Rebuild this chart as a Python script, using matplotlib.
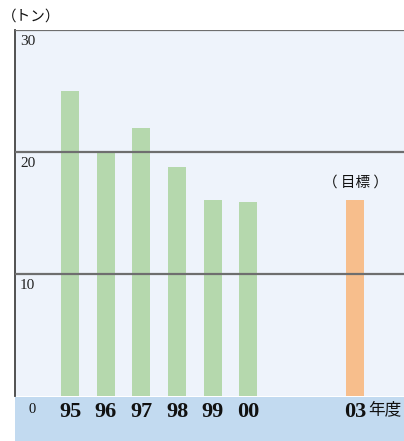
import matplotlib
matplotlib.use("Agg")
import matplotlib.pyplot as plt
from matplotlib.patches import Rectangle

# data
years = ["95", "96", "97", "98", "99", "00", "03"]
positions = [0, 1, 2, 3, 4, 5, 8]
amounts = [25.0, 20.0, 22.0, 18.8, 16.1, 15.9, 16.1]
bar_colors = ["#b5d8ad"] * 6 + ["#f7be8c"]
y_ticks = [10, 20, 30]

W, H = 404, 441
fig = plt.figure(figsize=(W / 100, H / 100), dpi=100)
fig.patch.set_facecolor("white")

# blue band under the axis
band = Rectangle((15 / W, 0), 1 - 15 / W, (H - 397) / H,
                 transform=fig.transFigure, facecolor="#c2daf0",
                 edgecolor="none", zorder=-5)
fig.patches.append(band)

ax = fig.add_axes([15 / W, (H - 396) / H, 1 - 15 / W, 366 / H])
ax.set_zorder(1)
ax.set_facecolor("#eef3fb")
ax.bar(positions, amounts, width=0.505, color=bar_colors, zorder=2)

ax.set_xlim(-1.542, 9.364)
ax.set_ylim(0, 30)

for v in y_ticks:
    ax.axhline(v, color="#6e6e6e", lw=1.6, zorder=3)
    ax.text(-1.4, v - 0.4, str(v), ha="left", va="top",
            family="Liberation Serif", fontsize=11, color="#222222")

for s in ["top", "right", "bottom"]:
    ax.spines[s].set_visible(False)
ax.spines["left"].set_color("#444444")
ax.spines["left"].set_linewidth(1.3)
ax.set_xticks([])
ax.set_yticks([])

# year labels in the band
for p, lab in zip(positions, years):
    ax.text(p, -0.5, lab, ha="center", va="top", family="Liberation Serif",
            fontweight="bold", fontsize=16, color="#111111", clip_on=False)
ax.text(-1.05, -0.55, "0", ha="center", va="top", family="Liberation Serif",
        fontsize=10.5, color="#111111", clip_on=False)
ax.text(8.37, -0.45, "年度", ha="left", va="top", family="Noto Sans CJK JP",
        fontsize=12, color="#111111", clip_on=False)

ax.text(8, 16.9, "（ 目標 ）", ha="center", va="bottom",
        family="Noto Sans CJK JP", fontsize=10.5, color="#111111")

fig.text(2 / W, 1 - 17 / H, "（トン）", ha="left", va="center",
         family="Noto Sans CJK JP", fontsize=10.5, color="#111111")

fig.savefig("out.png", dpi=100)
